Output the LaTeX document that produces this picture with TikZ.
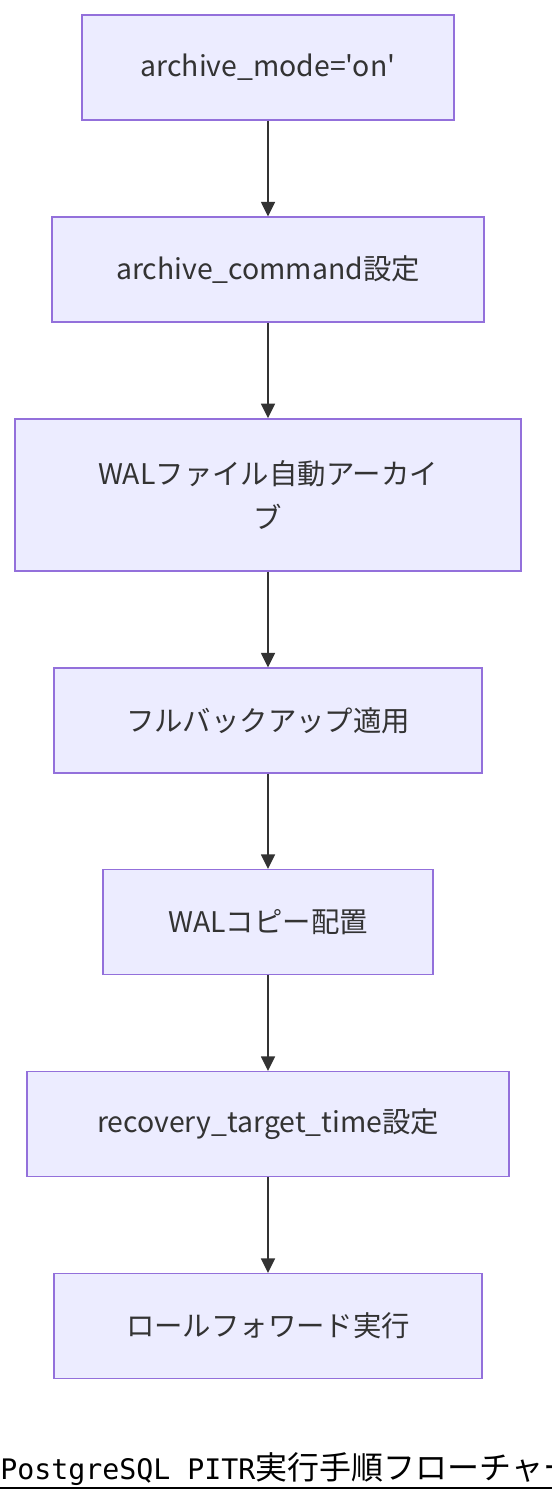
\documentclass[tikz,border=0pt]{standalone}
\usepackage{fontspec}
\setmainfont{Noto Sans CJK JP}[Ligatures=TeXOff]
\newfontfamily\cjkfont{Noto Sans CJK JP}
\newfontfamily\monolat{DejaVu Sans Mono}
\usetikzlibrary{arrows.meta}
\definecolor{boxfill}{HTML}{ECECFF}
\definecolor{boxline}{HTML}{9370DB}
\definecolor{ink}{HTML}{333333}
\tikzset{
  stepbox/.style={draw=boxline, fill=boxfill, line width=1.1pt, inner sep=0pt,
    text=ink, align=center, font=\fontsize{21.3}{33.5}\selectfont,
    minimum height=78.5pt},
  flow/.style={draw=ink, line width=1.3pt, -{Triangle[length=11pt,width=10.5pt]}}
}
\begin{document}
\begin{tikzpicture}[x=0.75pt,y=-0.75pt]
\useasboundingbox (0,0) rectangle (552,1500);
\clip (0,0) rectangle (552,1500);
\node[stepbox, minimum width=279pt] (n1) at (268,67.5) {archive\_mode='on'};
\node[stepbox, minimum width=324pt] (n2) at (268,269.5) {archive\_command設定};
\node[stepbox, minimum width=379.5pt, minimum height=114pt] (n3) at (268,495) {WALファイル自動アーカイ\\ブ};
\node[stepbox, minimum width=321pt] (n4) at (268,720.5) {フルバックアップ適用};
\node[stepbox, minimum width=247.5pt] (n5) at (268,922) {WALコピー配置};
\node[stepbox, minimum width=361.5pt] (n6) at (268,1124) {recovery\_target\_time設定};
\node[stepbox, minimum width=321pt] (n7) at (268,1326) {ロールフォワード実行};
\draw[flow] (n1) -- (n2);
\draw[flow] (n2) -- (n3);
\draw[flow] (n3) -- (n4);
\draw[flow] (n4) -- (n5);
\draw[flow] (n5) -- (n6);
\draw[flow] (n6) -- (n7);
\node[anchor=base west, inner sep=0pt, text=black] (cap) at (0,1479)
  {{\monolat\fontsize{21.2}{24}\selectfont PostgreSQL PITR}{\cjkfont\fontsize{24}{28}\selectfont 実行手順フローチャート}};
\coordinate (ulL) at (0,1488);
\coordinate (ulR) at (552,1488);
\draw[line width=1.5pt, black] (ulL) -- (ulR);
\end{tikzpicture}
\end{document}
